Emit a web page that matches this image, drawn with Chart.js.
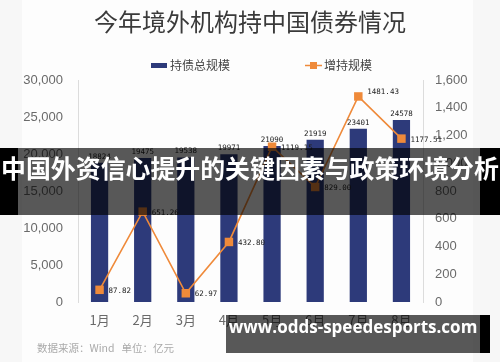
<!DOCTYPE html>
<html>
<head>
<meta charset="utf-8">
<script src="https://cdn.jsdelivr.net/npm/chart.js@4.4.0/dist/chart.umd.min.js"></script>
<style>
  html, body { margin: 0; padding: 0; background: #f7f7f7; }
  #wrap { position: relative; width: 500px; height: 362px; overflow: hidden; }
  #card { position: absolute; left: 22px; top: 0; width: 451px; height: 362px; background: #fdfdfd; }
  canvas { position: absolute; left: 0; top: 0; }
  .band { position: absolute; background: rgba(0,0,0,0.65); color: #fff; font-weight: 700; white-space: nowrap; }
  .blk { position: absolute; background: #000; }
</style>
</head>
<body>
<div id="wrap">
  <div id="card"></div>
  <canvas id="myChart" width="500" height="362"></canvas>
  <div class="blk" style="left:0;top:148px;width:18px;height:67px"></div>
  <div class="blk" style="left:480px;top:148px;width:20px;height:67px"></div>
  <div class="band" style="left:18px;top:148px;width:462px;height:67px"></div>
  <div style="position:absolute;left:0;top:149px;width:500px;height:67px;line-height:67px;text-align:center;color:#fff;font:700 24.9px 'Noto Sans CJK SC';white-space:nowrap">中国外资信心提升的关键因素与政策环境分析</div>
  <div class="blk" style="left:480px;top:315px;width:10px;height:38px"></div>
  <div class="band" style="left:226px;top:315px;width:254px;height:38px;line-height:38px;text-align:center;font:700 17px 'Open Sans'">www.odds-speedesports.com</div>
</div>
<script>
const meses = ["1月", "2月", "3月", "4月", "5月", "6月", "7月", "8月"];
const totalLabels = ["18824", "19475", "19538", "19971", "21090", "21919", "23401", "24578"];
const totalValues = [18824, 19475, 19538, 19971, 21090, 21919, 23401, 24578];
const incLabels = ["87.82", "651.26", "62.97", "432.80", "1119.15", "829.00", "1481.43", "1177.51"];
const incValues = [87.82, 651.26, 62.97, 432.8, 1119.15, 829.0, 1481.43, 1177.51];

const navy = "#2d3a7a";
const orange = "#ef8a3a";

// dibuja titulo, leyenda, etiquetas y fuente
const extras = {
  id: "extras",
  afterDatasetsDraw(chart) {
    const ctx = chart.ctx;
    ctx.save();
    // etiquetas barras
    ctx.fillStyle = "#222";
    ctx.font = "7.5px 'DejaVu Sans Mono'";
    ctx.textAlign = "center";
    ctx.textBaseline = "alphabetic";
    chart.getDatasetMeta(1).data.forEach((bar, i) => {
      ctx.fillText(totalLabels[i], bar.x, bar.y - 4);
    });
    // etiquetas linea
    ctx.textAlign = "left";
    ctx.textBaseline = "middle";
    chart.getDatasetMeta(0).data.forEach((pt, i) => {
      ctx.fillText(incLabels[i], pt.x + 9, pt.y + (i === 6 ? -4 : 1));
    });
    ctx.restore();
  },
  afterDraw(chart) {
    const ctx = chart.ctx;
    ctx.save();
    ctx.fillStyle = "#3a3a3a";
    ctx.font = "24px 'Noto Sans CJK SC'";
    ctx.textAlign = "center";
    ctx.textBaseline = "middle";
    ctx.fillText("今年境外机构持中国债券情况", 250, 22);
    // leyenda
    ctx.font = "12px 'Noto Sans CJK SC'";
    ctx.textAlign = "left";
    ctx.fillStyle = navy;
    ctx.fillRect(151, 63, 16, 5);
    ctx.fillStyle = "#444";
    ctx.fillText("持债总规模", 170, 65);
    ctx.strokeStyle = orange;
    ctx.lineWidth = 1.5;
    ctx.beginPath();
    ctx.moveTo(305, 65.5);
    ctx.lineTo(322, 65.5);
    ctx.stroke();
    ctx.fillStyle = orange;
    ctx.fillRect(310, 62, 7, 7);
    ctx.fillStyle = "#444";
    ctx.fillText("增持规模", 324, 65);
    // fuente
    ctx.fillStyle = "#aaa";
    ctx.font = "10.5px 'Noto Sans CJK SC'";
    ctx.fillText("数据来源：Wind   单位：亿元", 37, 348);
    ctx.restore();
  },
};

const config = {
  data: {
    labels: meses,
    datasets: [
      {
        type: "line",
        label: "增持规模",
        data: incValues,
        yAxisID: "y1",
        borderColor: orange,
        backgroundColor: orange,
        borderWidth: 1.6,
        pointStyle: "rect",
        pointRadius: 6,
        pointBorderWidth: 0,
        tension: 0,
        order: 0,
      },
      {
        type: "bar",
        label: "持债总规模",
        data: totalValues,
        yAxisID: "y",
        backgroundColor: navy,
        barPercentage: 0.4,
        categoryPercentage: 1,
        order: 1,
      },
    ],
  },
  options: {
    responsive: false,
    animation: false,
    layout: { padding: { top: 80, left: 0, right: 0, bottom: 0 } },
    plugins: {
      legend: { display: false },
      title: { display: false },
      tooltip: { enabled: false },
    },
    scales: {
      x: {
        grid: { display: false, drawTicks: false },
        border: { display: false },
        ticks: { color: "#6a6a6a", font: { size: 13, family: "'Noto Sans CJK SC'" }, padding: 10 },
        afterFit: (s) => { s.height = 60; },
      },
      y: {
        position: "left",
        min: 0,
        max: 30000,
        grid: { display: false, drawTicks: false },
        border: { color: "#dcdcdc" },
        ticks: { stepSize: 5000, color: "#6a6a6a", font: { size: 13, family: "Arial, 'Liberation Sans'" }, padding: 15 },
        afterFit: (s) => { s.width = 78; },
      },
      y1: {
        position: "right",
        min: 0,
        max: 1600,
        grid: { display: false, drawTicks: false },
        border: { color: "#dcdcdc" },
        ticks: { stepSize: 200, color: "#6a6a6a", font: { size: 13, family: "Arial, 'Liberation Sans'" }, padding: 12 },
        afterFit: (s) => { s.width = 77; },
      },
    },
  },
  plugins: [extras],
};

const myChart = new Chart(document.getElementById("myChart"), config);
</script>
</body>
</html>
